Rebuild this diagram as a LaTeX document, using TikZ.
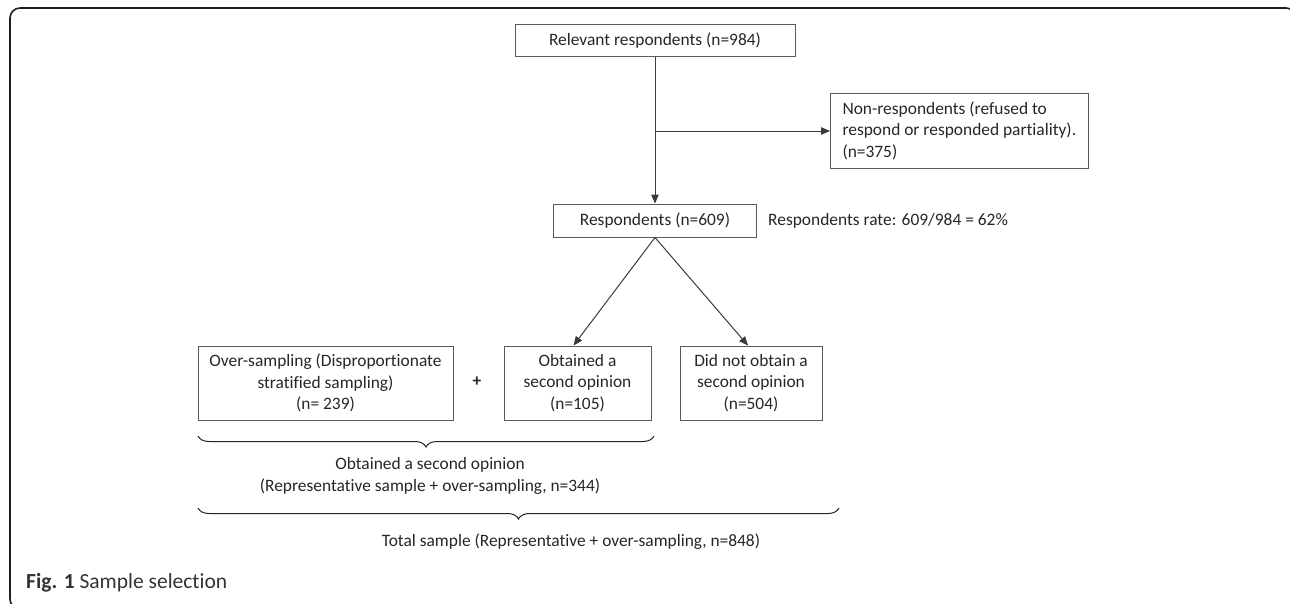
\documentclass[tikz,border=0pt]{standalone}
\usepackage{fontspec}
\setmainfont{Carlito}[Ligatures=NoCommon]
\usetikzlibrary{arrows.meta,decorations.pathreplacing,calc}
\definecolor{boxline}{HTML}{5A5A5A}
\definecolor{arrowline}{HTML}{3A3A3A}
\definecolor{framecol}{HTML}{1E1E1E}
\definecolor{captioncol}{HTML}{333333}
\begin{document}
\begin{tikzpicture}[x=1pt,y=-1pt,
  every node/.style={font=\fontsize{17.4}{21.5}\selectfont, text=black!85},
  box/.style={draw=boxline, line width=1pt, inner sep=0pt, align=center},
  conn/.style={draw=arrowline, line width=1pt, -{Triangle[length=9pt,width=7.5pt]}},
  brc/.style={draw=black!85, line width=1pt, decorate, decoration={brace, mirror, amplitude=11pt}},
  plain/.style={inner sep=0pt, align=center}]
\useasboundingbox (0,0) rectangle (1290,603);
\begin{scope}
\clip (0,0) rectangle (1290,603);
\draw[framecol, line width=1.6pt, rounded corners=10pt] (10,8) rectangle (1296,609);
\end{scope}

\node[box, minimum width=280pt, minimum height=32pt] (rel) at (655,40.5) {Relevant respondents (n=984)};
\node[box, anchor=west, align=left, inner xsep=12pt, minimum height=75pt] (non) at (830,130.5)
  {Non-respondents (refused to\\respond or responded partiality).\\(n=375)};
\node[box, minimum width=203pt, minimum height=33pt] (resp) at (655,220.5) {Respondents (n=609)};
\node[plain, anchor=west] (rate) at (768,220.5) {Respondents rate: 609/984 = 62\%};

\node[box, minimum width=255pt, minimum height=74pt] (over) at (325.5,383)
  {Over-sampling (Disproportionate\\stratified sampling)\\(n= 239)};
\node[plain] (plus) at (477,382) {\textbf{+}};
\node[box, minimum width=147pt, minimum height=74pt] (obt) at (577.5,383)
  {Obtained a\\second opinion\\(n=105)};
\node[box, minimum width=142pt, minimum height=74pt] (dno) at (751,383)
  {Did not obtain a\\second opinion\\(n=504)};

\coordinate (br) at (655,131);
\draw[conn] (rel) -- (resp);
\draw[conn] (br) -- (br -| non.west);
\draw[conn] (resp.south) -- ($(obt.north)+(-4,0)$);
\draw[conn] (resp.south) -- ($(dno.north)+(-3,0)$);

\coordinate (b1l) at (198,436);
\coordinate (b1r) at (654,436);
\coordinate (b2l) at (198,508);
\coordinate (b2r) at (839,508);
\draw[brc] (b1l) -- (b1r);
\draw[brc] (b2l) -- (b2r);

\node[plain] (sum1) at (430,476) {Obtained a second opinion\\(Representative sample + over-sampling, n=344)};
\node[plain] (sum2) at (571,542) {Total sample (Representative + over-sampling, n=848)};

\node[plain, anchor=west, text=captioncol, font=\fontsize{21.5}{25}\selectfont] (cap) at (26,583)
  {\textbf{Fig. 1} Sample selection};
\end{tikzpicture}
\end{document}
